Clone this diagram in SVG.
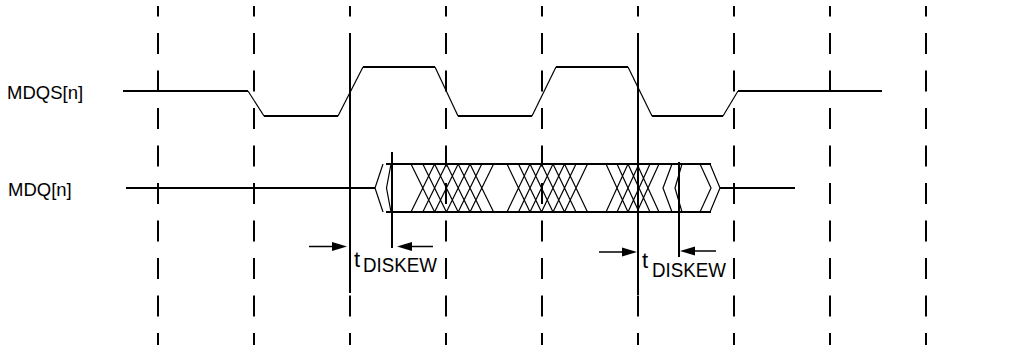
<svg xmlns="http://www.w3.org/2000/svg" width="1016" height="350" viewBox="0 0 1016 350">
<style>
.grid{stroke:#000;stroke-width:2;stroke-dasharray:21 16.5;stroke-dashoffset:10.5;fill:none}
.sig{stroke:#000;stroke-width:2;fill:none}
.thin{stroke:#000;stroke-width:1.2;fill:none}
.solid{stroke:#000;stroke-width:2;fill:none}
.arr{stroke:#000;stroke-width:1.5;fill:none}
.head{fill:#000;stroke:none}
.lbl{font-family:"Liberation Sans",Arial,sans-serif;font-size:18.5px;fill:#000}
.t{font-family:"Liberation Sans",Arial,sans-serif;font-size:22px;fill:#000}
.sub{font-size:20px}
</style>
<g id="grid">
<line class="grid" x1="158" y1="6" x2="158" y2="345"/>
<line class="grid" x1="254" y1="6" x2="254" y2="345"/>
<line class="grid" x1="350" y1="6" x2="350" y2="345"/>
<line class="grid" x1="446" y1="6" x2="446" y2="345"/>
<line class="grid" x1="542" y1="6" x2="542" y2="345"/>
<line class="grid" x1="638" y1="6" x2="638" y2="345"/>
<line class="grid" x1="734" y1="6" x2="734" y2="345"/>
<line class="grid" x1="830" y1="6" x2="830" y2="345"/>
<line class="grid" x1="926" y1="6" x2="926" y2="345"/>
</g>
<g id="mdqs">
<text class="lbl" x="7" y="99">MDQS[n]</text>
<path class="sig" d="M123 91H248"/>
<path class="thin" d="M248 91L264 116"/>
<path class="sig" d="M264 116H338"/>
<path class="thin" d="M338 116L363 67"/>
<path class="sig" d="M363 67H435"/>
<path class="thin" d="M435 67L458 116"/>
<path class="sig" d="M458 116H532"/>
<path class="thin" d="M532 116L556 67"/>
<path class="sig" d="M556 67H628"/>
<path class="thin" d="M628 67L652 116"/>
<path class="sig" d="M652 116H723"/>
<path class="thin" d="M723 116L738 91"/>
<path class="sig" d="M738 91H882"/>
</g>
<g id="mdq">
<text class="lbl" x="8" y="195.5">MDQ[n]</text>
<path class="sig" d="M126 188H375M720 188H795"/>
<path class="sig" d="M386 164H711M386 212H711"/>
<path class="thin" d="M383 164L375 188L383 212M391 164L386.5 188L391 212M672 164L663 188L672 212M682 164L675 188L682 212M700 164L711 188L700 212M710 164L720 188L710 212"/>
<path class="thin" d="M411 164L434.6 212M411 212L434.6 164M422.8 164L446.4 212M422.8 212L446.4 164M434.6 164L458.2 212M434.6 212L458.2 164M446.4 164L470 212M446.4 212L470 164M458.2 164L481.8 212M458.2 212L481.8 164M470 164L493.6 212M470 212L493.6 164"/>
<path class="thin" d="M507 164L530 212M507 212L530 164M518.5 164L541.5 212M518.5 212L541.5 164M530 164L553 212M530 212L553 164M541.5 164L564.5 212M541.5 212L564.5 164M553 164L576 212M553 212L576 164M564.5 164L587.5 212M564.5 212L587.5 164"/>
<path class="thin" d="M606 164L628 212M606 212L628 164M617 164L639 212M617 212L639 164M628 164L650 212M628 212L650 164M637 164L659 212M637 212L659 164"/>
</g>
<g id="markers">
<line class="solid" x1="350" y1="33" x2="350" y2="293"/>
<line class="solid" x1="638" y1="33" x2="638" y2="295"/>
<line class="solid" x1="392" y1="152" x2="392" y2="248"/>
<line class="solid" x1="679" y1="162" x2="679" y2="257"/>
</g>
<g id="skew1">
<line class="arr" x1="309" y1="246.5" x2="335" y2="246.5"/>
<polygon class="head" points="332,242 347,246.5 332,251"/>
<polygon class="head" points="397,246.5 412,242 412,251"/>
<line class="arr" x1="410" y1="246.5" x2="433" y2="246.5"/>
<text class="t" x="354" y="266.5">t<tspan class="sub" x="363" y="271.5" textLength="74" lengthAdjust="spacingAndGlyphs">DISKEW</tspan></text>
</g>
<g id="skew2">
<line class="arr" x1="599" y1="252" x2="625" y2="252"/>
<polygon class="head" points="622,247.5 637,252 622,256.5"/>
<polygon class="head" points="680,251 695,246.5 695,255.5"/>
<line class="arr" x1="693" y1="251" x2="716" y2="251"/>
<text class="t" x="642" y="267.5">t<tspan class="sub" x="652" y="277" textLength="74" lengthAdjust="spacingAndGlyphs">DISKEW</tspan></text>
</g>
</svg>
